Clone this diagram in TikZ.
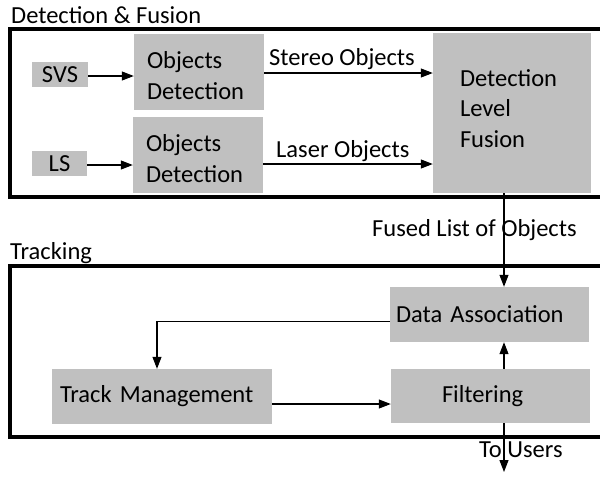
\documentclass[tikz,border=0pt]{standalone}
\usepackage{fontspec}
\setmainfont{Carlito}
\usetikzlibrary{arrows.meta,calc}
\definecolor{boxgray}{RGB}{192,192,192}
\tikzset{
  blk/.style={fill=boxgray, draw=none, inner sep=0pt, font=\fontsize{24.5}{30.5}\selectfont},
  lbl/.style={inner sep=0pt, anchor=base west, font=\fontsize{24.5}{30}\selectfont},
  frame/.style={draw=black, line width=4.5pt},
  arr/.style={draw=black, line width=1.1pt, -{Triangle[length=12pt,width=9pt]}},
  ln/.style={draw=black, line width=1.1pt}
}
\begin{document}
\begin{tikzpicture}[x=1pt,y=-1pt]
\useasboundingbox (0,0) rectangle (600,477);
\clip (0,0) rectangle (600,477);
% frames
\draw[frame] (10,29) rectangle (610,197);
\draw[frame] (10,266) rectangle (610,437);
% titles
\node[lbl] (t1) at (11,23) {Detection \& Fusion};
\node[lbl] (t2) at (10,259) {Tracking};
% blocks
\node[blk, minimum width=56pt, minimum height=25pt] (svs) at (60,74.5) {SVS};
\node[blk, minimum width=55pt, minimum height=25pt] (ls) at (59.5,163.5) {LS};
\node[blk, minimum width=130pt, minimum height=76pt, text width=104pt, align=left] (od1) at (199,72) {\rule{0pt}{24pt}Objects\\Detection};
\node[blk, minimum width=130pt, minimum height=76pt, text width=104pt, align=left] (od2) at (198,155) {\rule{0pt}{24pt}Objects\\Detection};
\node[blk, minimum width=158pt, minimum height=160pt, text width=104pt, align=left] (dlf) at (512,113) {Detection\\Level\\Fusion\rule[-9pt]{0pt}{9pt}};
\node[blk, minimum width=199pt, minimum height=55pt, text width=187pt, align=left] (da) at (489.5,314.5) {Data Association};
\node[blk, minimum width=199pt, minimum height=54pt, text width=97pt, align=left] (filt) at (490.5,396) {Filtering};
\node[blk, minimum width=220pt, minimum height=55pt, text width=204pt, align=left] (tm) at (162,396.5) {Track Management};
% labels
\node[lbl] (lso) at (269,65) {Stereo Objects};
\node[lbl] (llo) at (276,157) {Laser Objects};
\node[lbl] (lfl) at (372,236) {Fused List of Objects};
\node[lbl] (ltu) at (479,457) {To Users};
% helper coordinates
\coordinate (fx) at (504,0);
\coordinate (tmx) at (157,0);
\coordinate (out) at (504,472);
% connectors
\draw[arr] ($(svs.east)+(0,1.5)$) -- ($(svs.east -| od1.west)+(0,1.5)$);
\draw[arr] ($(ls.east)+(0,1.5)$) -- ($(ls.east -| od2.west)+(0,1.5)$);
\draw[arr] ($(od1.east)+(0,1)$) -- ($(od1.east -| dlf.west)+(0,1)$);
\draw[arr] ($(od2.east)+(0,9)$) -- ($(od2.east -| dlf.west)+(0,9)$);
\draw[arr] (dlf.south -| fx) -- (da.north -| fx);
\draw[arr] (filt.north -| fx) -- (da.south -| fx);
\draw[arr] (filt.south -| fx) -- (out);
\draw[arr] ($(da.west)+(0,7)$) -| (tm.north -| tmx);
\draw[arr] ($(tm.east)+(0,7.5)$) -- ($(tm.east -| filt.west)+(0,7.5)$);
\end{tikzpicture}
\end{document}
